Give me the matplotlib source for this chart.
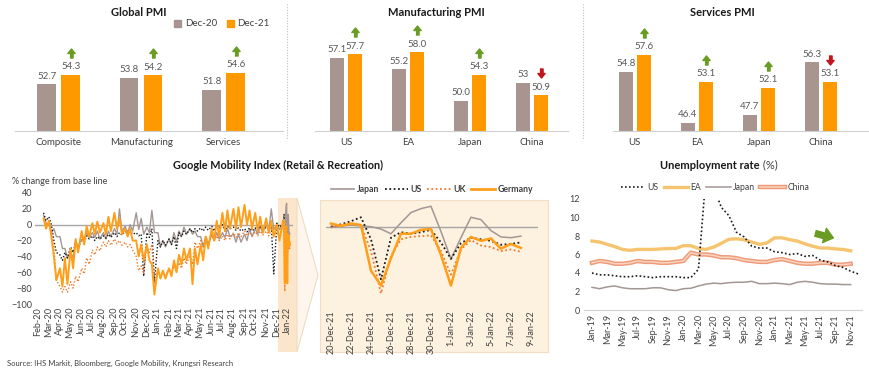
import numpy as np
import pandas as pd
import matplotlib
matplotlib.use("Agg")
from matplotlib import pyplot as plt
from matplotlib.lines import Line2D
from matplotlib.patches import Patch, Polygon, Rectangle
from matplotlib import patheffects as pe
from matplotlib.transforms import offset_copy

plt.rcParams["font.family"] = ["Lato", "DejaVu Sans"]

# ---------------- data ----------------
global_cats = ["Composite", "Manufacturing", "Services"]
global_dec20 = [52.7, 53.8, 51.8]
global_dec21 = [54.3, 54.2, 54.6]

country_cats = ["US", "EA", "Japan", "China"]
mfg_dec20 = [57.1, 55.2, 50.0, 53.0]
mfg_dec21 = [57.7, 58.0, 54.3, 50.9]
mfg_dec20_labels = ["57.1", "55.2", "50.0", "53"]
svc_dec20 = [54.8, 46.4, 47.7, 56.3]
svc_dec21 = [57.6, 53.1, 52.1, 53.1]

# Google mobility (retail & recreation), half-monthly high / low envelope
# from 15-Feb-20 to 1-Dec-21, then daily values 20-Dec-21 .. 8-Jan-22
jp_hi = [12, 0, -5, -15, -30, -35, -20, -12, -10, -10, -8, -10, -8, -5, 20, -2, 0, 15, 8, -3,
         18, -10, -20, -18, -10, -8, -3, -5, -8, -15, -15, -12, -10, -10, -5, -12, -12, -12, -5, -5,
         -2, 0, 20, 0]
jp_lo = [2, -10, -15, -30, -42, -42, -30, -18, -16, -16, -18, -18, -15, -12, -8, -10, -8, -6, -12, -10,
         -10, -28, -28, -25, -22, -15, -12, -12, -15, -28, -25, -20, -18, -16, -15, -22, -22, -20, -15, -12,
         -10, -8, -6, -6]
us_hi = [15, 10, -20, -38, -35, -28, -22, -18, -14, -14, -15, -14, -12, -10, -10, -8, -8, -10, -12, -10,
         -5, -20, -20, -18, -15, -10, -8, -5, -5, -4, -3, -2, 0, 0, -2, -3, -4, -5, -4, -4,
         -3, -3, 0, 2]
us_lo = [5, 0, -35, -45, -42, -35, -30, -22, -18, -20, -18, -17, -16, -15, -13, -12, -12, -14, -65, -16,
         -72, -28, -26, -25, -30, -15, -12, -10, -8, -8, -7, -8, -4, -8, -5, -7, -8, -9, -8, -7,
         -6, -6, -62, -3]
uk_hi = [8, 2, -30, -78, -78, -72, -65, -55, -42, -32, -28, -22, -20, -18, -20, -22, -25, -40, -52, -25,
         -25, -55, -58, -55, -52, -48, -42, -38, -22, -20, -15, -14, -14, -14, -12, -10, -10, -8, -10, -9,
         -8, -8, -6, -10]
uk_lo = [0, -8, -70, -85, -85, -80, -72, -62, -50, -38, -33, -28, -26, -24, -26, -28, -32, -58, -60, -35,
         -80, -65, -65, -62, -60, -55, -50, -50, -30, -28, -22, -20, -20, -20, -18, -16, -15, -14, -14, -14,
         -13, -14, -12, -16]
de_hi = [8, 5, -40, -55, -42, -30, -18, -8, -2, 2, 4, 2, 10, 15, 8, -5, -5, -20, -25, -25,
         -50, -55, -58, -55, -45, -38, -30, -30, -30, -25, -15, -5, 5, 15, 18, 20, 22, 25, 18, 15,
         10, 8, 5, 0]
de_lo = [-5, -15, -70, -78, -75, -55, -35, -25, -15, -12, -10, -12, -8, -5, -12, -15, -20, -40, -45, -45,
         -88, -68, -68, -65, -60, -50, -45, -75, -50, -45, -30, -20, -15, -8, -5, -5, -3, 0, -5, -8,
         -10, -10, -15, -20]

jp_daily = [1, 2, 3, 2, 1, -2, -8, 6, 19, 24, 27, -5, -40, -13, 13, 10, -4, -12, -13, -11]
us_daily = [1, 4, 8, 13, -15, -66, -13, -6, -8, -6, -3, -19, -40, -20, -13, -15, -17, -22, -21, -19]
uk_daily = [0, 3, 5, 3, -30, -84, -36, -15, -12, -11, -10, -30, -60, -28, -16, -23, -25, -30, -28, -31]
de_daily = [5, 2, 5, 3, -55, -74, -39, -8, -8, -3, -2, -35, -74, -26, -12, -17, -14, -27, -21, -26]

# unemployment rate, monthly from Jan-19
unemp_us = [4.0, 3.8, 3.8, 3.7, 3.6, 3.6, 3.7, 3.6, 3.5, 3.6, 3.6, 3.6, 3.5, 3.5, 4.4, 14.7, 13.3, 11.1,
            10.2, 8.4, 7.9, 6.9, 6.7, 6.7, 6.3, 6.2, 6.0, 6.1, 5.8, 5.9, 5.4, 5.2, 4.8, 4.6, 4.2, 3.9]
unemp_ea = [7.45, 7.35, 7.1, 6.85, 6.55, 6.45, 6.55, 6.55, 6.55, 6.6, 6.65, 6.65, 6.95, 6.95, 6.65, 6.55,
            6.8, 7.2, 7.65, 7.7, 7.6, 7.35, 7.1, 7.25, 7.8, 7.8, 7.6, 7.45, 7.15, 6.9, 6.7, 6.7, 6.6, 6.55, 6.4]
unemp_jp = [2.45, 2.3, 2.5, 2.6, 2.4, 2.3, 2.3, 2.3, 2.4, 2.4, 2.2, 2.1, 2.3, 2.35, 2.6, 2.8, 2.9, 2.85,
            2.95, 3.0, 3.0, 3.1, 2.85, 2.85, 2.9, 2.85, 2.75, 3.0, 3.1, 3.0, 2.85, 2.8, 2.8, 2.75, 2.75]
unemp_cn = [5.1, 5.3, 5.2, 5.0, 5.0, 5.1, 5.3, 5.2, 5.2, 5.1, 5.1, 5.2, 5.3, 6.2, 6.0, 6.0, 5.9, 5.7,
            5.7, 5.6, 5.4, 5.3, 5.2, 5.2, 5.4, 5.5, 5.3, 5.1, 5.0, 5.0, 5.1, 5.1, 4.9, 4.9, 5.0]

# ---------------- style ----------------
W, H = 870, 373
C20, C21 = "#A8958F", "#FF9900"
GREEN, RED = "#6A9C23", "#C0161B"
TXT = "#404040"
JP_C, US_C, UK_C, DE_C = "#A39694", "#1A1A1A", "#EE7A2C", "#FF9E18"
DOT = (0, (1, 1.4))

UP = np.array([(-0.35, -1), (0.35, -1), (0.35, 0), (0.8, 0), (0, 1), (-0.8, 0), (-0.35, 0)])
DOWN = UP * [1, -1]


def fx(px):
    return px / W


def fy(py):
    return 1 - py / H


def add_ax(left, top, right, bottom):
    return fig.add_axes([fx(left), fy(bottom), (right - left) / W, (bottom - top) / H])


fig = plt.figure(figsize=(W / 100, H / 100), dpi=100)
fig.patch.set_facecolor("white")


def pmi_panel(ax, cats, d20, d21, xlim, lab20=None):
    x = np.arange(len(cats))
    off, bw = 0.145, 0.225
    ax.bar(x - off, d20, bw, color=C20)
    ax.bar(x + off, d21, bw, color=C21)
    ax.set_ylim(45, 61)
    ax.set_xlim(*xlim)
    for s in ["left", "right", "top"]:
        ax.spines[s].set_visible(False)
    ax.spines["bottom"].set_color("#D0D0D0")
    ax.set_yticks([])
    ax.set_xticks(x, cats)
    ax.tick_params(length=0, labelsize=7, colors=TXT, pad=5)
    ax.patch.set_alpha(0)
    lab20 = lab20 or [f"{v:.1f}" for v in d20]
    for xi, v, t in zip(x - off, d20, lab20):
        ax.annotate(t, (xi, v), xytext=(0, 2.5), textcoords="offset points",
                    ha="center", va="bottom", fontsize=7, color="#595959")
    tr = offset_copy(ax.transData, fig=fig, x=0, y=22, units="dots")
    for xi, v, v0 in zip(x + off, d21, d20):
        ax.annotate(f"{v:.1f}", (xi, v), xytext=(0, 2.5), textcoords="offset points",
                    ha="center", va="bottom", fontsize=7, color="#595959")
        up = v > v0
        ax.plot([xi], [v], ls="none", marker=UP if up else DOWN, ms=6.5,
                color=GREEN if up else RED, transform=tr, clip_on=False)
    return ax


ax1 = pmi_panel(add_ax(15, 34, 283, 131), global_cats, global_dec20, global_dec21, (-0.53, 2.72))
ax2 = pmi_panel(add_ax(315, 34, 568, 131), country_cats, mfg_dec20, mfg_dec21, (-0.5, 3.58), mfg_dec20_labels)
ax3 = pmi_panel(add_ax(613, 34, 868, 131), country_cats, svc_dec20, svc_dec21, (-0.35, 3.76))

for px, py, t in [(139, 12, "Global PMI"), (436, 12, "Manufacturing PMI"), (722, 12, "Services PMI")]:
    fig.text(fx(px), fy(py), t, ha="center", va="center", fontsize=8, fontweight="bold", color="#1A1A1A")

ax1.legend(handles=[Patch(color=C20, label="Dec-20"), Patch(color=C21, label="Dec-21")],
           loc="center", bbox_to_anchor=(fx(222), fy(24)), bbox_transform=fig.transFigure,
           ncol=2, frameon=False, fontsize=7, handlelength=0.7, handleheight=0.7,
           handletextpad=0.4, columnspacing=1.0, labelcolor=TXT)

for px in (287, 583):
    fig.add_artist(Line2D([fx(px)] * 2, [fy(4), fy(140)], transform=fig.transFigure,
                          color="#BFBFBF", ls=DOT, lw=0.8))

# ---------------- mobility ----------------
half = pd.date_range("2020-02-15", "2021-12-01", freq="SMS")
env_x = np.empty(2 * len(half), dtype="datetime64[ns]")
env_x[0::2] = (half + pd.Timedelta(days=2)).values
env_x[1::2] = (half + pd.Timedelta(days=9)).values
day_x = pd.date_range("2021-12-20", "2022-01-08", freq="D")
left_x = np.concatenate([env_x, day_x.values])


def left_series(hi, lo, daily):
    y = np.empty(2 * len(hi))
    y[0::2] = hi
    y[1::2] = lo
    return np.concatenate([y, daily])


# background shapes
fig.add_artist(Polygon([(fx(278), fy(198)), (fx(297), fy(198)), (fx(297), fy(352)), (fx(278), fy(352))],
                       closed=True, transform=fig.transFigure, facecolor="#FCE6CB", edgecolor="none", zorder=-2))
fig.add_artist(Polygon([(fx(297), fy(198)), (fx(318), fy(275)), (fx(297), fy(352))],
                       closed=True, transform=fig.transFigure, facecolor="#FEF6EC", edgecolor="#EEDCC4",
                       lw=0.8, zorder=-2))
fig.add_artist(Rectangle((fx(320), fy(352)), 228 / W, 152 / H, transform=fig.transFigure,
                         facecolor="#FDF1E0", edgecolor="#F1DEC3", lw=0.8, zorder=-2))

axm = add_ax(35, 193, 293, 304)
axm.patch.set_alpha(0)
axm.axhline(0, color="#A6A6A6", lw=1, zorder=1)
axm.plot(left_x, left_series(jp_hi, jp_lo, jp_daily), color=JP_C, lw=1.0)
axm.plot(left_x, left_series(us_hi, us_lo, us_daily), color=US_C, lw=1.0, ls=DOT)
axm.plot(left_x, left_series(uk_hi, uk_lo, uk_daily), color=UK_C, lw=1.0, ls=DOT)
axm.plot(left_x, left_series(de_hi, de_lo, de_daily), color=DE_C, lw=1.4)
axm.set_ylim(-100, 40)
axm.set_yticks(range(-100, 41, 20))
axm.set_xlim(pd.Timestamp("2020-01-24"), pd.Timestamp("2022-01-17"))
months = pd.date_range("2020-02-01", "2022-01-01", freq="MS")
axm.set_xticks(months, [d.strftime("%b-%y") for d in months], rotation=90)
axm.tick_params(length=0, labelsize=6.5, colors=TXT, pad=2)
for s in axm.spines.values():
    s.set_visible(False)

axz = add_ax(326, 200, 538, 306)
axz.patch.set_alpha(0)
axz.axhline(0, color="#A6A6A6", lw=1)
axz.plot(day_x, jp_daily, color=JP_C, lw=1.1)
axz.plot(day_x, us_daily, color=US_C, lw=1.3, ls=DOT)
axz.plot(day_x, uk_daily, color=UK_C, lw=1.3, ls=DOT)
axz.plot(day_x, de_daily, color=DE_C, lw=1.8)
axz.set_ylim(-100, 35)
axz.set_xlim(pd.Timestamp("2021-12-19 12:00"), pd.Timestamp("2022-01-09 17:00"))
zt = pd.date_range("2021-12-20", "2022-01-09", freq="2D")
axz.set_xticks(zt, [f"{d.day}-{d:%b-%y}" for d in zt], rotation=90)
axz.set_yticks([])
axz.tick_params(length=0, labelsize=6.5, colors=TXT, pad=3)
for s in axz.spines.values():
    s.set_visible(False)

fig.legend(handles=[Line2D([], [], color=JP_C, lw=1.2, label="Japan"),
                    Line2D([], [], color=US_C, lw=1.3, ls=DOT, label="US"),
                    Line2D([], [], color=UK_C, lw=1.3, ls=DOT, label="UK"),
                    Line2D([], [], color=DE_C, lw=2, label="Germany")],
           loc="center", bbox_to_anchor=(fx(432), fy(190)), ncol=4, frameon=False,
           prop={"size": 6.3, "weight": "bold"}, handlelength=2.7, handletextpad=0.3,
           columnspacing=0.6, labelcolor=TXT)

fig.text(fx(278), fy(165), "Google Mobility Index (Retail & Recreation)", ha="center", va="center",
         fontsize=7.8, fontweight="bold", color="#1A1A1A")
fig.text(fx(12), fy(182), "% change from base line", ha="left", va="center", fontsize=6.5, color=TXT)
fig.text(fx(7), fy(363), "Source: IHS Markit, Bloomberg, Google Mobility, Krungsri Research",
         ha="left", va="center", fontsize=5.5, color=TXT)

# ---------------- unemployment ----------------
axu = add_ax(584, 199, 862, 310)
axu.patch.set_alpha(0)
axu.plot(np.arange(len(unemp_jp)), unemp_jp, color=JP_C, lw=1.1)
axu.plot(np.arange(len(unemp_cn)), unemp_cn, color="#F9D3BE", lw=1.1,
         path_effects=[pe.Stroke(linewidth=3.2, foreground="#EE9B7A"), pe.Normal()])
axu.plot(np.arange(len(unemp_ea)), unemp_ea, color="#F6C46E", lw=2.4)
axu.plot(np.arange(len(unemp_us)), unemp_us, color=US_C, lw=1.2, ls=DOT)
axu.set_ylim(0, 12)
axu.set_xlim(-1.05, 35.5)
axu.set_yticks(range(0, 13, 2))
um = pd.date_range("2019-01-01", periods=36, freq="MS")
axu.set_xticks(np.arange(0, 36, 2), [d.strftime("%b-%y") for d in um[::2]], rotation=90)
axu.tick_params(length=0, labelsize=6.5, colors=TXT, pad=3)
for s in ["left", "right", "top"]:
    axu.spines[s].set_visible(False)
axu.spines["bottom"].set_color("#D0D0D0")

ang = np.deg2rad(-105)
rot = np.array([[np.cos(ang), -np.sin(ang)], [np.sin(ang), np.cos(ang)]])
axu.plot([0.865], [0.676], transform=axu.transAxes, ls="none", marker=UP @ rot.T, ms=14, color=GREEN)

fig.legend(handles=[Line2D([], [], color=US_C, lw=1.2, ls=DOT, label="US"),
                    Line2D([], [], color="#F6C46E", lw=2.4, label="EA"),
                    Line2D([], [], color=JP_C, lw=1.1, label="Japan"),
                    Line2D([], [], color="#F9D3BE", lw=1.1, label="China",
                           path_effects=[pe.Stroke(linewidth=3.2, foreground="#EE9B7A"), pe.Normal()])],
           loc="center", bbox_to_anchor=(fx(715), fy(188)), ncol=4, frameon=False,
           fontsize=6.2, handlelength=2.8, handletextpad=0.3, columnspacing=0.6, labelcolor=TXT)

t1 = fig.text(fx(660), fy(165), "Unemployment rate", ha="left", va="center",
              fontsize=8, fontweight="bold", color="#1A1A1A")
t2 = fig.text(fx(760), fy(165), " (%)", ha="left", va="center", fontsize=8, color=TXT)
# place "(%)" right after the bold part
fig.canvas.draw()
bb = t1.get_window_extent()
t2.set_position((bb.x1 / fig.bbox.width, fy(165)))

fig.savefig("out.png", dpi=100)
